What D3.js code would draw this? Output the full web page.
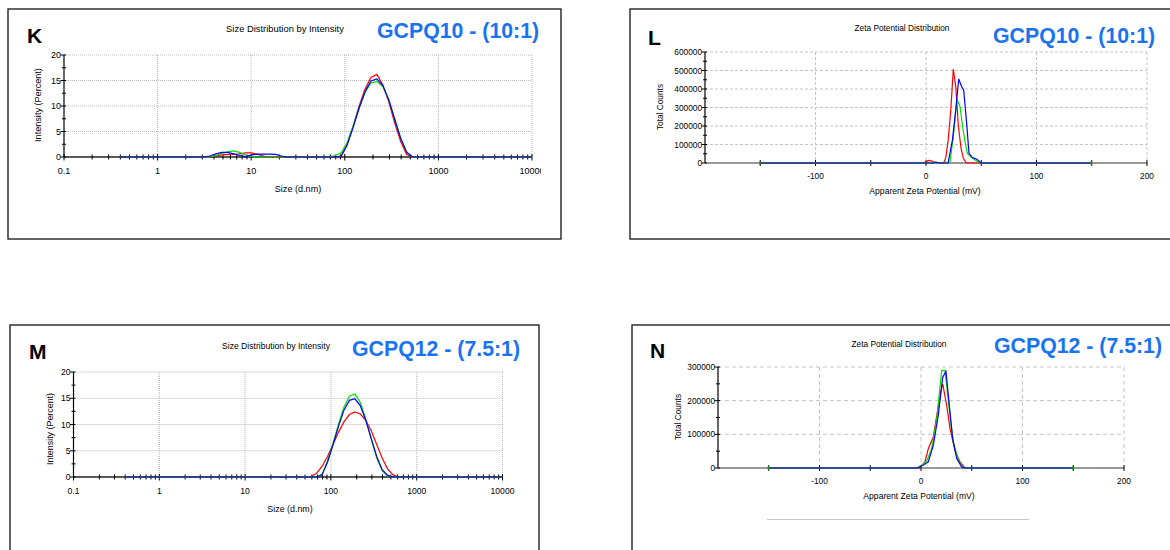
<!DOCTYPE html>
<html>
<head>
<meta charset="utf-8">
<script src="https://cdn.jsdelivr.net/npm/d3@7/dist/d3.min.js"></script>
<style>
  html, body { margin: 0; padding: 0; background: #fff; }
  svg { display: block; }
</style>
</head>
<body>
<svg id="chart" width="1170" height="550"></svg>
<script>
// ---------------- DATA ----------------
// Size classes (d.nm) shared by the size-distribution panels
const sizeBins = [0.4,0.4632,0.5365,0.6213,0.7195,0.8332,0.9649,1.117,1.294,1.499,
  1.736,2.010,2.328,2.696,3.122,3.615,4.187,4.849,5.615,6.503,
  7.531,8.721,10.10,11.70,13.54,15.69,18.17,21.04,24.36,28.21,
  32.67,37.84,43.82,50.75,58.77,68.06,78.82,91.28,105.7,122.4,
  141.8,164.2,190.1,220.2,255.0,295.3,342.0,396.1,458.7,531.2,
  615.1,712.4,825.0,955.4,1106,1281,1484,1718,1990,2305,
  2669,3091,3580,4145,4801,5560,6439,7456,8635,10000];

// Panel K: GCPQ10 (10:1) intensity (%)
const kRed = [0,0,0,0,0,0,0,0,0,0, 0,0,0,0,0,0,0.2,0.4,0.5,0.5,
  0.6,0.8,0.8,0.5,0.2,0,0,0,0,0, 0,0,0,0,0,0,0,0.1,2.4,6.0,
  9.9,13.3,15.6,16.2,14.1,10.8,6.6,3.0,0.5,0, 0,0,0,0,0,0,0,0,0,0, 0,0,0,0,0,0,0,0,0,0];
const kGreen = [0,0,0,0,0,0,0,0,0,0, 0,0,0,0,0,0,0.3,0.7,1.0,1.2,
  0.9,0.4,0.1,0,0,0,0,0,0,0, 0,0,0,0,0,0,0.3,0.8,2.8,6.0,
  9.5,12.6,14.5,14.8,13.8,11.2,7.4,3.7,1.0,0, 0,0,0,0,0,0,0,0,0,0, 0,0,0,0,0,0,0,0,0,0];
const kBlue = [0,0,0,0,0,0,0,0,0,0, 0,0,0,0,0,0.2,0.6,0.9,0.9,0.6,
  0.3,0.1,0.4,0.55,0.55,0.55,0.5,0.2,0,0, 0,0,0,0,0,0,0,0.2,2.3,5.7,
  9.5,12.8,14.9,15.3,14.0,11.2,7.3,3.6,0.9,0, 0,0,0,0,0,0,0,0,0,0, 0,0,0,0,0,0,0,0,0,0];

// Panel M: GCPQ12 (7.5:1) intensity (%)
const mRed = [0,0,0,0,0,0,0,0,0,0, 0,0,0,0,0,0,0,0,0,0,
  0,0,0,0,0,0,0,0,0,0, 0,0,0,0,0.1,0.7,2.0,3.9,6.2,8.5,
  10.5,11.9,12.4,12.0,10.8,8.8,6.2,3.6,1.5,0.4, 0,0,0,0,0,0,0,0,0,0, 0,0,0,0,0,0,0,0,0,0];
const mGreen = [0,0,0,0,0,0,0,0,0,0, 0,0,0,0,0,0,0,0,0,0,
  0,0,0,0,0,0,0,0,0,0, 0,0,0,0,0,0,0.5,3.0,6.4,10.0,
  13.3,15.4,15.8,14.2,11.0,7.2,3.6,1.2,0.2,0, 0,0,0,0,0,0,0,0,0,0, 0,0,0,0,0,0,0,0,0,0];
const mBlue = [0,0,0,0,0,0,0,0,0,0, 0,0,0,0,0,0,0,0,0,0,
  0,0,0,0,0,0,0,0,0,0, 0,0,0,0,0,0,0.4,2.8,6.1,9.6,
  12.7,14.6,14.9,13.6,10.8,7.3,3.9,1.4,0.3,0, 0,0,0,0,0,0,0,0,0,0, 0,0,0,0,0,0,0,0,0,0];

// Panel L: GCPQ10 zeta potential (mV) and total counts
const lRedMv     = [-150,-5,0,2,5,8,10,16,18,20,22.5,24.7,27,29.3,31.7,33.8,36.5,150];
const lRedCounts = [0,0,5000,14000,12000,2000,0,0,30000,120000,290000,508000,410000,200000,80000,25000,0,0];
const lGreenMv     = [-150,20,21.7,24.7,28,30.8,33.2,35.3,37.4,41.4,46,49,150];
const lGreenCounts = [0,0,5000,142000,346000,304000,196000,115000,52000,29000,10000,0,0];
const lBlueMv     = [-150,6,9,12,20,23.9,26.9,29.6,32.3,34.1,36.8,38.9,42,46,49.8,150];
const lBlueCounts = [0,0,5000,0,0,124000,286000,454000,412000,395000,214000,52000,29000,20000,0,0];

// Panel N: GCPQ12 zeta potential (mV) and total counts
const nRedMv     = [-150,-1,3.9,7.2,12.1,16.1,19.4,21.4,25.3,28.6,33.5,38.4,43.3,150];
const nRedCounts = [0,0,18000,57000,92000,166000,226000,250000,186000,117000,52000,18000,0,0];
const nGreenMv     = [-150,-4.2,0.7,5.6,10.5,15.5,20.4,23.6,28.6,31.8,36.8,41.7,150];
const nGreenCounts = [0,0,9000,20000,57000,146000,290000,290000,156000,77000,23000,0,0];
const nBlueMv     = [-150,-3,2.3,7.2,12.1,17,21.4,24.6,27.9,31.2,35.2,40.1,43,150];
const nBlueCounts = [0,0,9000,18000,67000,156000,270000,287000,186000,87000,28000,3000,0,0];

// Tick values
const sizeTicks = [0.1, 1, 10, 100, 1000, 10000];
const sizeTickLabels = ["0.1", "1", "10", "100", "1000", "10000"];
const intensityTicks = [0, 5, 10, 15, 20];
const zetaTicks = [-100, 0, 100, 200];
const zetaMinorTicks = [-150, -50, 50, 150];
const lCountTicks = [0, 100000, 200000, 300000, 400000, 500000, 600000];
const nCountTicks = [0, 100000, 200000, 300000];

// ---------------- DRAWING ----------------
const FONT = "'Liberation Sans', Arial, Helvetica, sans-serif";
const BLUE_LABEL = "#1a73ee";
const COLORS = { red: "#ff0000", green: "#00e000", blue: "#0000ff" };
const svg = d3.select("#chart");

function text(g, x, y, str, opts) {
  const t = g.append("text").attr("x", x).attr("y", y).text(str)
    .attr("font-family", FONT).attr("font-size", opts.size || 8)
    .attr("fill", opts.fill || "#000")
    .attr("text-anchor", opts.anchor || "start");
  if (opts.weight) t.attr("font-weight", opts.weight);
  if (opts.rotate) t.attr("transform", `rotate(-90,${x},${y})`);
  return t;
}

function frame(f) {
  svg.append("rect").attr("x", f.x).attr("y", f.y).attr("width", f.w).attr("height", f.h)
    .attr("fill", "none").attr("stroke", "#222").attr("stroke-width", 1.4);
}

function sizePanel(cfg) {
  frame(cfg.frame);
  const g = svg.append("g");
  const clipId = "clip" + cfg.letter;
  svg.append("clipPath").attr("id", clipId).append("rect")
    .attr("x", cfg.frame.x).attr("y", cfg.frame.y).attr("width", cfg.clipW).attr("height", cfg.frame.h);
  const p = cfg.plot;
  const fs = cfg.fs;
  const x = d3.scaleLog().domain([0.1, 10000]).range([p.left, p.right]);
  const y = d3.scaleLinear().domain([0, 20]).range([p.bottom, p.top]);

  // grid (dotted)
  sizeTicks.slice(1).forEach(v => g.append("line").attr("x1", x(v)).attr("x2", x(v))
    .attr("y1", p.top).attr("y2", p.bottom).attr("stroke", "#b8b8b8").attr("stroke-dasharray", "1,1"));
  intensityTicks.slice(1).forEach(v => g.append("line").attr("x1", p.left).attr("x2", p.right)
    .attr("y1", y(v)).attr("y2", y(v)).attr("stroke", "#b8b8b8").attr("stroke-dasharray", "1,1"));

  // axes
  g.append("line").attr("x1", p.left).attr("x2", p.left).attr("y1", p.top).attr("y2", p.bottom)
    .attr("stroke", "#000").attr("stroke-width", 1.2);
  g.append("line").attr("x1", p.left).attr("x2", p.right).attr("y1", p.bottom).attr("y2", p.bottom)
    .attr("stroke", "#222").attr("stroke-width", 1.5);
  d3.range(0, 20.01, 2.5).forEach(v => {
    const major = v % 5 === 0;
    g.append("line").attr("x1", p.left - (major ? 3.5 : 2)).attr("x2", p.left + 2)
      .attr("y1", y(v)).attr("y2", y(v)).attr("stroke", "#000");
  });
  const minors = [];
  for (let dec = 0.1; dec < 10000; dec *= 10) for (let k = 2; k <= 9; k++) minors.push(dec * k);
  minors.forEach(v => g.append("line").attr("x1", x(v)).attr("x2", x(v))
    .attr("y1", p.bottom - 2.5).attr("y2", p.bottom + 2.5).attr("stroke", "#000"));
  sizeTicks.forEach(v => g.append("line").attr("x1", x(v)).attr("x2", x(v))
    .attr("y1", p.bottom - 3).attr("y2", p.bottom + 3.5).attr("stroke", "#000"));

  // tick labels
  intensityTicks.forEach(v => text(g, p.left - 3, y(v) + 3.2, String(v), { anchor: "end", size: fs.tick }));
  const lbls = g.append("g").attr("clip-path", `url(#${clipId})`);
  sizeTicks.forEach((v, i) => text(lbls, x(v), p.bottom + 16.5, sizeTickLabels[i], { anchor: "middle", size: fs.tick }));

  // data lines
  const line = d3.line().x(d => x(d[0])).y(d => y(d[1]));
  [["red", cfg.red], ["green", cfg.green], ["blue", cfg.blue]].forEach(([c, vals]) => {
    g.append("path").datum(sizeBins.map((s, i) => [s, vals[i]]))
      .attr("d", line).attr("fill", "none").attr("stroke", COLORS[c]).attr("stroke-width", 1.2);
  });

  // texts
  text(g, cfg.letterPos[0], cfg.letterPos[1], cfg.letter, { size: 21, weight: "bold" });
  text(g, cfg.titlePos[0], cfg.titlePos[1], "Size Distribution by Intensity", { anchor: "middle", size: fs.title });
  text(g, cfg.namePos[0], cfg.namePos[1], cfg.name, { size: 21.3, weight: "bold", fill: BLUE_LABEL });
  text(g, cfg.yLabelPos[0], cfg.yLabelPos[1], "Intensity (Percent)", { anchor: "middle", rotate: true, size: fs.label });
  text(g, cfg.xLabelPos[0], cfg.xLabelPos[1], "Size (d.nm)", { anchor: "middle", size: fs.label });
}

function zetaPanel(cfg) {
  frame(cfg.frame);
  const g = svg.append("g");
  const p = cfg.plot;
  const x = d3.scaleLinear().domain([-200, 200]).range([p.left, p.right]);
  const y = d3.scaleLinear().domain([0, cfg.yMax]).range([p.bottom, p.top]);

  // grid (dashed)
  zetaTicks.forEach(v => g.append("line").attr("x1", x(v)).attr("x2", x(v))
    .attr("y1", p.top).attr("y2", p.bottom).attr("stroke", "#c4c4c4").attr("stroke-dasharray", cfg.dash));
  cfg.yTicks.slice(1).forEach(v => g.append("line").attr("x1", p.left).attr("x2", p.right)
    .attr("y1", y(v)).attr("y2", y(v)).attr("stroke", "#c4c4c4").attr("stroke-dasharray", cfg.dash));

  // axes
  g.append("line").attr("x1", p.left).attr("x2", p.left).attr("y1", p.top).attr("y2", p.bottom)
    .attr("stroke", "#000").attr("stroke-width", 1.2);
  g.append("line").attr("x1", p.left).attr("x2", p.right).attr("y1", p.bottom).attr("y2", p.bottom)
    .attr("stroke", "#777").attr("stroke-width", 1.6);
  d3.range(0, cfg.yMax + 1, 50000).forEach(v => {
    const major = v % 100000 === 0;
    g.append("line").attr("x1", p.left - (major ? 3.5 : 2)).attr("x2", p.left + 2)
      .attr("y1", y(v)).attr("y2", y(v)).attr("stroke", "#000");
  });
  zetaTicks.concat(zetaMinorTicks).forEach(v => g.append("line").attr("x1", x(v)).attr("x2", x(v))
    .attr("y1", p.bottom - 3).attr("y2", p.bottom + 3).attr("stroke", "#000"));

  cfg.yTicks.forEach(v => text(g, p.left - 3, y(v) + 3, String(v), { anchor: "end", size: 8.3 }));
  zetaTicks.forEach(v => text(g, x(v), p.bottom + 16, String(v), { anchor: "middle", size: 8.3 }));

  const line = d3.line().x(d => x(d[0])).y(d => y(d[1]));
  [["red", cfg.redMv, cfg.redC], ["green", cfg.greenMv, cfg.greenC], ["blue", cfg.blueMv, cfg.blueC]]
    .forEach(([c, mv, cnt]) => {
      g.append("path").datum(mv.map((m, i) => [m, cnt[i]]))
        .attr("d", line).attr("fill", "none").attr("stroke", COLORS[c]).attr("stroke-width", 1.2);
    });
  [-150, 150].forEach(v => g.append("line").attr("x1", x(v) - 0.5).attr("x2", x(v) - 0.5)
    .attr("y1", p.bottom - 1.5).attr("y2", p.bottom + 1.5).attr("stroke", "#00b000").attr("stroke-width", 1.5));

  text(g, cfg.letterPos[0], cfg.letterPos[1], cfg.letter, { size: 21, weight: "bold" });
  text(g, cfg.titlePos[0], cfg.titlePos[1], "Zeta Potential Distribution", { anchor: "middle", size: 8.3 });
  text(g, cfg.namePos[0], cfg.namePos[1], cfg.name, { size: 21.3, weight: "bold", fill: BLUE_LABEL });
  text(g, cfg.yLabelPos[0], cfg.yLabelPos[1], "Total Counts", { anchor: "middle", rotate: true, size: 8.3 });
  text(g, cfg.xLabelPos[0], cfg.xLabelPos[1], "Apparent Zeta Potential (mV)", { anchor: "middle", size: 8.6 });
}

sizePanel({
  letter: "K", name: "GCPQ10 - (10:1)",
  frame: { x: 8, y: 9, w: 553, h: 230 }, clipW: 533,
  plot: { left: 64, right: 532, top: 55, bottom: 157 },
  fs: { tick: 9, title: 9.4, label: 9.1 },
  red: kRed, green: kGreen, blue: kBlue,
  letterPos: [27, 43], titlePos: [285, 32], namePos: [377, 38],
  yLabelPos: [41, 105], xLabelPos: [298, 192]
});

sizePanel({
  letter: "M", name: "GCPQ12 - (7.5:1)",
  frame: { x: 10, y: 325, w: 529, h: 240 }, clipW: 529,
  plot: { left: 73.5, right: 502.5, top: 372, bottom: 477 },
  fs: { tick: 8.6, title: 8.6, label: 8.9 },
  red: mRed, green: mGreen, blue: mBlue,
  letterPos: [29, 359], titlePos: [276, 349], namePos: [352, 356],
  yLabelPos: [53, 429], xLabelPos: [290, 512]
});

zetaPanel({
  letter: "L", name: "GCPQ10 - (10:1)",
  frame: { x: 630, y: 9, w: 560, h: 230 },
  plot: { left: 705, right: 1147, top: 52, bottom: 163 },
  yMax: 600000, yTicks: lCountTicks, dash: "3,2",
  redMv: lRedMv, redC: lRedCounts, greenMv: lGreenMv, greenC: lGreenCounts, blueMv: lBlueMv, blueC: lBlueCounts,
  letterPos: [648, 45], titlePos: [902, 31], namePos: [993, 43],
  yLabelPos: [663, 107], xLabelPos: [925, 194]
});

zetaPanel({
  letter: "N", name: "GCPQ12 - (7.5:1)",
  frame: { x: 632, y: 325, w: 560, h: 240 },
  plot: { left: 718, right: 1124, top: 367, bottom: 468 },
  yMax: 300000, yTicks: nCountTicks, dash: "4,3",
  redMv: nRedMv, redC: nRedCounts, greenMv: nGreenMv, greenC: nGreenCounts, blueMv: nBlueMv, blueC: nBlueCounts,
  letterPos: [650, 358], titlePos: [899, 347], namePos: [994, 353],
  yLabelPos: [681, 417], xLabelPos: [919, 499]
});

// stray separator line under panel N
svg.append("line").attr("x1", 767).attr("x2", 1029).attr("y1", 519.5).attr("y2", 519.5)
  .attr("stroke", "#c8c8c8").attr("stroke-width", 1);
</script>
</body>
</html>
